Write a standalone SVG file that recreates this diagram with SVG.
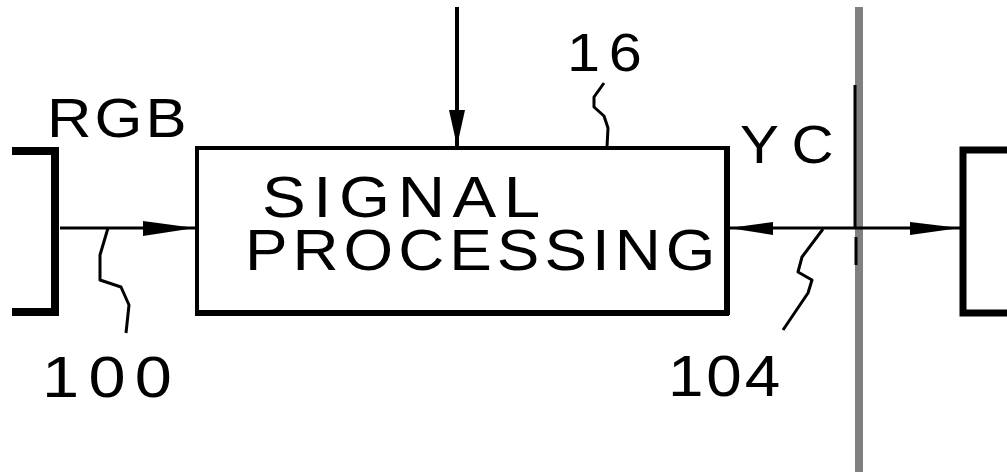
<svg xmlns="http://www.w3.org/2000/svg" width="1007" height="473" viewBox="0 0 1007 473">
<style>
.t{font-family:"Liberation Sans",Arial,sans-serif;fill:#000}
.ln{stroke:#000;fill:none;stroke-linecap:butt;stroke-linejoin:miter}
.ld{stroke:#000;fill:none;stroke-width:3;stroke-linejoin:round}
</style>
<rect width="1007" height="473" fill="#fff"/>
<g id="bus">
<line x1="859" y1="7" x2="859" y2="472" stroke="#808080" stroke-width="8"/>
<line x1="855" y1="85" x2="855" y2="227" stroke="#000" stroke-width="3"/>
<line x1="856" y1="237" x2="856" y2="265" stroke="#000" stroke-width="3"/>
</g>
<g id="left-block">
<path class="ln" d="M12,151 H55 V312 H12" stroke-width="8"/>
</g>
<g id="right-block">
<path class="ln" d="M1007,150 H963 V313 H1007" stroke-width="7"/>
</g>
<g id="signal-processing">
<path class="ln" d="M197,148 H727" stroke-width="4"/>
<path class="ln" d="M197,146 V315" stroke-width="4"/>
<path class="ln" d="M195,313 H729" stroke-width="6"/>
<path class="ln" d="M727,146 V315" stroke-width="6"/>
<text class="t" transform="translate(262,217) scale(1.15,1)" font-size="57" textLength="242" lengthAdjust="spacing">SIGNAL</text>
<text class="t" transform="translate(245,270) scale(1.12,1)" font-size="57" textLength="420" lengthAdjust="spacing">PROCESSING</text>
</g>
<g id="connectors">
<line class="ln" x1="60" y1="228" x2="195" y2="228" stroke-width="3"/>
<path d="M143,221 L195,228 L143,236 Z" fill="#000"/>
<line class="ln" x1="457" y1="7" x2="457" y2="146" stroke-width="4"/>
<path d="M449,110 L457,146 L465,110 Z" fill="#000"/>
<line class="ln" x1="729" y1="228" x2="960" y2="228" stroke-width="3"/>
<path d="M729,228 L773,222 L773,235 Z" fill="#000"/>
<path d="M910,222 L960,228 L910,235 Z" fill="#000"/>
</g>
<g id="labels">
<text class="t" transform="translate(47,137) scale(1.1,1)" font-size="56" textLength="127" lengthAdjust="spacing">RGB</text>
<text class="t" transform="translate(567,71) scale(1.1,1)" font-size="54" textLength="68" lengthAdjust="spacing">16</text>
<text class="t" transform="translate(740,163) scale(1.1,1)" font-size="53" textLength="85" lengthAdjust="spacing">YC</text>
<text class="t" transform="translate(42,397) scale(1.15,1)" font-size="58" textLength="113" lengthAdjust="spacing">100</text>
<text class="t" transform="translate(668,396) scale(1.1,1)" font-size="58" textLength="102" lengthAdjust="spacing">104</text>
<path class="ld" d="M108,228 L100,255 L100,280 L121,287 L129,305 L126,333"/>
<path class="ld" d="M604,83 L594,97 L594,107 L604,116 L608,128 L607,147"/>
<path class="ld" d="M823,229 L802,257 L798,272 L812,280 L808,293 L783,330"/>
</g>
</svg>
